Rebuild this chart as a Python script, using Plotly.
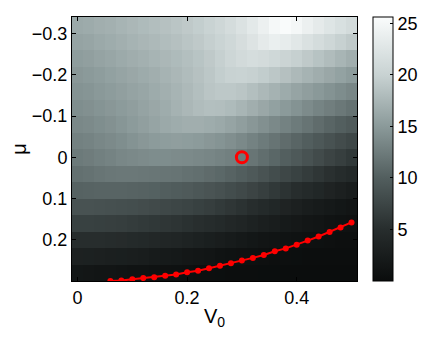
import plotly.graph_objects as go

# grid of the map
v0 = [round(0.02 * i, 2) for i in range(26)]
mu = [round(-0.32 + 0.04 * j, 2) for j in range(16)]

# values, one row per mu (top to bottom)
z = [
    [16.3, 16.5, 16.8, 17.0, 17.3, 17.6, 17.9, 18.2, 18.5, 18.8, 19.2, 19.6, 20.1, 20.6, 21.3, 22.1, 23.0, 24.0, 25.0, 25.5, 24.9, 24.0, 23.2, 22.5, 21.8, 21.2],
    [15.8, 16.0, 16.3, 16.6, 16.9, 17.2, 17.5, 17.8, 18.1, 18.4, 18.8, 19.2, 19.7, 20.2, 20.8, 21.5, 22.3, 23.2, 23.8, 23.5, 22.8, 22.0, 21.3, 20.6, 19.9, 19.3],
    [15.3, 15.5, 15.8, 16.1, 16.4, 16.7, 17.0, 17.3, 17.6, 17.9, 18.3, 18.7, 19.2, 19.8, 20.5, 21.1, 21.4, 21.2, 20.8, 20.3, 19.8, 19.2, 18.6, 18.0, 17.4, 16.8],
    [14.8, 15.0, 15.3, 15.6, 15.9, 16.2, 16.5, 16.8, 17.2, 17.6, 18.0, 18.5, 19.0, 19.6, 20.0, 20.1, 19.9, 19.5, 19.0, 18.4, 17.8, 17.2, 16.7, 16.2, 15.7, 15.2],
    [14.4, 14.6, 14.9, 15.2, 15.5, 15.8, 16.1, 16.5, 16.9, 17.3, 17.8, 18.3, 18.8, 19.1, 19.1, 18.8, 18.3, 17.7, 17.1, 16.5, 15.9, 15.4, 14.9, 14.4, 13.9, 13.4],
    [14.0, 14.2, 14.5, 14.8, 15.1, 15.4, 15.8, 16.2, 16.6, 17.1, 17.6, 18.0, 18.3, 18.2, 17.9, 17.4, 16.8, 16.2, 15.6, 15.0, 14.4, 13.8, 13.2, 12.7, 12.2, 11.7],
    [13.5, 13.7, 14.0, 14.3, 14.7, 15.1, 15.5, 15.9, 16.3, 16.6, 16.8, 16.8, 16.6, 16.3, 15.9, 15.4, 14.8, 14.2, 13.6, 13.0, 12.4, 11.8, 11.2, 10.6, 10.1, 9.6],
    [12.9, 13.1, 13.4, 13.7, 14.0, 14.4, 14.8, 15.1, 15.3, 15.4, 15.3, 15.1, 14.8, 14.5, 14.1, 13.6, 13.0, 12.4, 11.8, 11.2, 10.6, 10.0, 9.4, 8.8, 8.2, 7.7],
    [12.3, 12.5, 12.8, 13.1, 13.4, 13.6, 13.8, 13.9, 13.9, 13.8, 13.7, 13.5, 13.3, 13.1, 12.8, 12.4, 11.9, 11.3, 10.7, 10.1, 9.5, 8.8, 8.1, 7.4, 6.8, 6.2],
    [11.5, 11.7, 11.9, 12.1, 12.2, 12.2, 12.1, 12.0, 11.9, 11.8, 11.6, 11.4, 11.1, 10.8, 10.4, 10.0, 9.5, 8.9, 8.3, 7.7, 7.1, 6.5, 5.9, 5.3, 4.8, 4.3],
    [10.3, 10.4, 10.5, 10.5, 10.5, 10.4, 10.3, 10.2, 10.0, 9.8, 9.6, 9.3, 9.0, 8.7, 8.3, 7.9, 7.4, 6.8, 6.2, 5.6, 5.0, 4.5, 4.0, 3.5, 3.0, 2.6],
    [8.8, 8.8, 8.7, 8.6, 8.5, 8.4, 8.2, 8.0, 7.8, 7.6, 7.3, 7.0, 6.7, 6.3, 5.9, 5.5, 5.0, 4.5, 4.0, 3.5, 3.0, 2.6, 2.2, 1.9, 1.6, 1.4],
    [7.0, 7.0, 6.9, 6.8, 6.7, 6.5, 6.3, 6.1, 5.9, 5.7, 5.4, 5.1, 4.8, 4.5, 4.1, 3.7, 3.3, 2.9, 2.5, 2.1, 1.8, 1.5, 1.3, 1.1, 0.9, 0.8],
    [5.0, 5.0, 4.9, 4.8, 4.7, 4.5, 4.3, 4.1, 3.9, 3.7, 3.4, 3.1, 2.8, 2.5, 2.2, 1.9, 1.6, 1.4, 1.2, 1.0, 0.9, 0.8, 0.7, 0.6, 0.5, 0.5],
    [3.2, 3.1, 3.0, 2.9, 2.8, 2.7, 2.5, 2.3, 2.1, 1.9, 1.7, 1.5, 1.3, 1.1, 0.9, 0.8, 0.7, 0.6, 0.5, 0.45, 0.4, 0.35, 0.3, 0.3, 0.3, 0.3],
    [1.6, 1.5, 1.4, 1.3, 1.2, 1.1, 1.0, 0.9, 0.8, 0.7, 0.6, 0.5, 0.45, 0.4, 0.35, 0.3, 0.3, 0.25, 0.25, 0.2, 0.2, 0.2, 0.2, 0.2, 0.2, 0.2],
]

# red boundary curve
curve_v0 = [0.06, 0.08, 0.10, 0.12, 0.14, 0.16, 0.18, 0.20, 0.22, 0.24, 0.26, 0.28,
            0.30, 0.32, 0.34, 0.36, 0.38, 0.40, 0.42, 0.44, 0.46, 0.48, 0.50]
curve_mu = [0.300, 0.299, 0.296, 0.293, 0.291, 0.287, 0.284, 0.279, 0.275, 0.269, 0.263, 0.257,
            0.250, 0.244, 0.237, 0.228, 0.221, 0.212, 0.202, 0.192, 0.181, 0.170, 0.158]

# marked point
pt_v0 = [0.3]
pt_mu = [0.0]

xticks = [0, 0.2, 0.4]
yticks = [-0.3, -0.2, -0.1, 0, 0.1, 0.2]
cticks = [5, 10, 15, 20, 25]

cscale = [
    [0.0, "rgb(10,12,12)"],
    [0.2, "rgb(40,46,46)"],
    [0.39, "rgb(82,94,94)"],
    [0.59, "rgb(140,155,155)"],
    [0.78, "rgb(200,210,210)"],
    [1.0, "rgb(250,252,252)"],
]

font = dict(family="Liberation Sans, Arial, Helvetica", size=18, color="black")
tfont = dict(family="Liberation Sans, Arial, Helvetica", size=20, color="black")

fig = go.Figure()
fig.add_trace(go.Heatmap(
    x=v0, y=mu, z=z, colorscale=cscale, zmin=0, zmax=25.6,
    colorbar=dict(
        x=1.056, xanchor="left", xpad=0, y=0.5, yanchor="middle", len=1, ypad=0,
        thickness=20, outlinewidth=1, outlinecolor="black",
        tickvals=cticks, ticks="inside", ticklen=3, tickcolor="black",
        tickfont=font,
    ),
))
fig.add_trace(go.Scatter(
    x=curve_v0, y=curve_mu, mode="lines+markers",
    line=dict(color="rgb(255,0,0)", width=2),
    marker=dict(color="rgb(255,0,0)", size=6),
    showlegend=False, hoverinfo="none",
))
fig.add_trace(go.Scatter(
    x=pt_v0, y=pt_mu, mode="markers",
    marker=dict(symbol="circle-open", color="rgb(255,0,0)", size=11,
                line=dict(color="rgb(255,0,0)", width=3)),
    showlegend=False, hoverinfo="none",
))

axis = dict(showline=True, linecolor="black", linewidth=1, mirror="ticks",
            ticks="inside", ticklen=4, tickcolor="black", showgrid=False,
            zeroline=False, tickfont=font, automargin=False)

# page body adds 8px around the plot, so the figure is 8px smaller each way
fig.update_layout(
    width=428, height=334,
    margin=dict(l=63.5, r=79, t=8.7, b=61, autoexpand=False),
    paper_bgcolor="white", plot_bgcolor="white",
    font=font, showlegend=False,
    xaxis=dict(axis, range=[-0.01, 0.51], tickvals=xticks,
               title=dict(text="V<sub>0</sub>", font=tfont, standoff=2)),
    yaxis=dict(axis, range=[0.30, -0.34], tickvals=yticks,
               title=dict(text="μ", font=tfont, standoff=13)),
)

fig.write_html("out.html")
